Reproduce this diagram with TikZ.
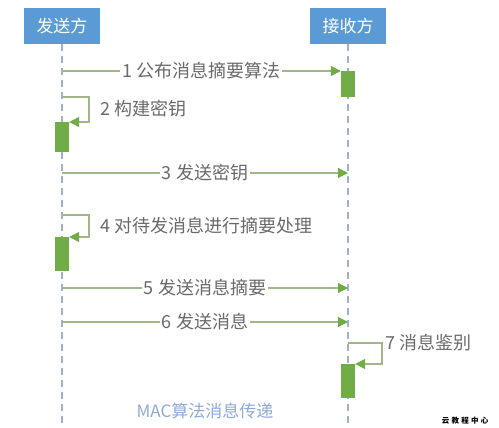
\documentclass[tikz,border=0pt]{standalone}
\usepackage{fontspec}
\newfontfamily\cjkfont{Noto Sans CJK SC}
\usetikzlibrary{arrows.meta,positioning}
\definecolor{boxblue}{HTML}{5B9BD5}
\definecolor{lifegray}{HTML}{9FB2D4}
\definecolor{msggreen}{HTML}{A3B58A}
\definecolor{tipgreen}{HTML}{70AD47}
\definecolor{lblgray}{HTML}{6A6A6A}
\definecolor{titleblue}{HTML}{8EA9D8}

\begin{document}
\begin{tikzpicture}[x=1pt,y=-1pt,
		actor/.style = {rectangle, fill=boxblue, text=white, minimum width=76pt,
				minimum height=36pt, inner sep=0pt, font=\cjkfont\fontsize{17}{19}\selectfont},
		life/.style = {draw=lifegray, line width=1.2pt, dash pattern=on 7pt off 5pt},
		msg/.style = {draw=msggreen, line width=1.2pt,
				-{Triangle[length=10pt,width=10pt,color=tipgreen]}},
		lbl/.style = {text=lblgray, inner sep=2pt, font=\cjkfont\fontsize{18}{20}\selectfont},
		midlbl/.style = {lbl, fill=white},
		actbar/.style = {rectangle, fill=tipgreen, minimum width=14pt, minimum height=#1,
				inner sep=0pt, anchor=north}
	]
	\useasboundingbox (0,0) rectangle (499,428);
	\node [actor] (sender) at (62,26) {发送方};
	\node [actor] (receiver) at (348,26) {接收方};
	\coordinate (sendend) at (62,428);
	\coordinate (recvend) at (348,428);
	\draw [life] (sender.south) -- (sendend);
	\draw [life] (receiver.south) -- (recvend);

	\coordinate (s1) at (62,71);
	\coordinate (s2) at (62,97);
	\coordinate (s3) at (62,173);
	\coordinate (r3) at (348,173);
	\coordinate (s4) at (62,215);
	\coordinate (s5) at (62,288);
	\coordinate (r5) at (348,288);
	\coordinate (s6) at (62,322);
	\coordinate (r6) at (348,322);
	\coordinate (r7) at (348,343);

	\node [actbar=26pt] (act1) at (348,71) {};
	\node [actbar=30pt] (act2) at (62,122) {};
	\node [actbar=34pt] (act4) at (62,237) {};
	\node [actbar=34pt] (act7) at (348,364) {};

	\draw [msg] (s1) -- node [midlbl] {1 公布消息摘要算法} (act1.north west);
	\draw [msg] (s2) -- ++(27,0) |- (act2.north east);
	\node [lbl, anchor=west] (l2) at (98,109) {2 构建密钥};
	\draw [msg] (s3) -- node [midlbl] {3 发送密钥} (r3);
	\draw [msg] (s4) -- ++(27,0) |- (act4.north east);
	\node [lbl, anchor=west] (l4) at (98,226) {4 对待发消息进行摘要处理};
	\draw [msg] (s5) -- node [midlbl] {5 发送消息摘要} (r5);
	\draw [msg] (s6) -- node [midlbl] {6 发送消息} (r6);
	\draw [msg] (r7) -- ++(34,0) |- (act7.north east);
	\node [lbl, anchor=west] (l7) at (383,343) {7 消息鉴别};

	\node [text=titleblue, font=\cjkfont\fontsize{17}{19}\selectfont] (title) at (205,411) {MAC算法消息传递};
	\node [font=\cjkfont\bfseries\fontsize{7.5}{9}\selectfont\addfontfeature{LetterSpace=30}] (mark) at (465,421) {云教程中心};
\end{tikzpicture}
\end{document}
